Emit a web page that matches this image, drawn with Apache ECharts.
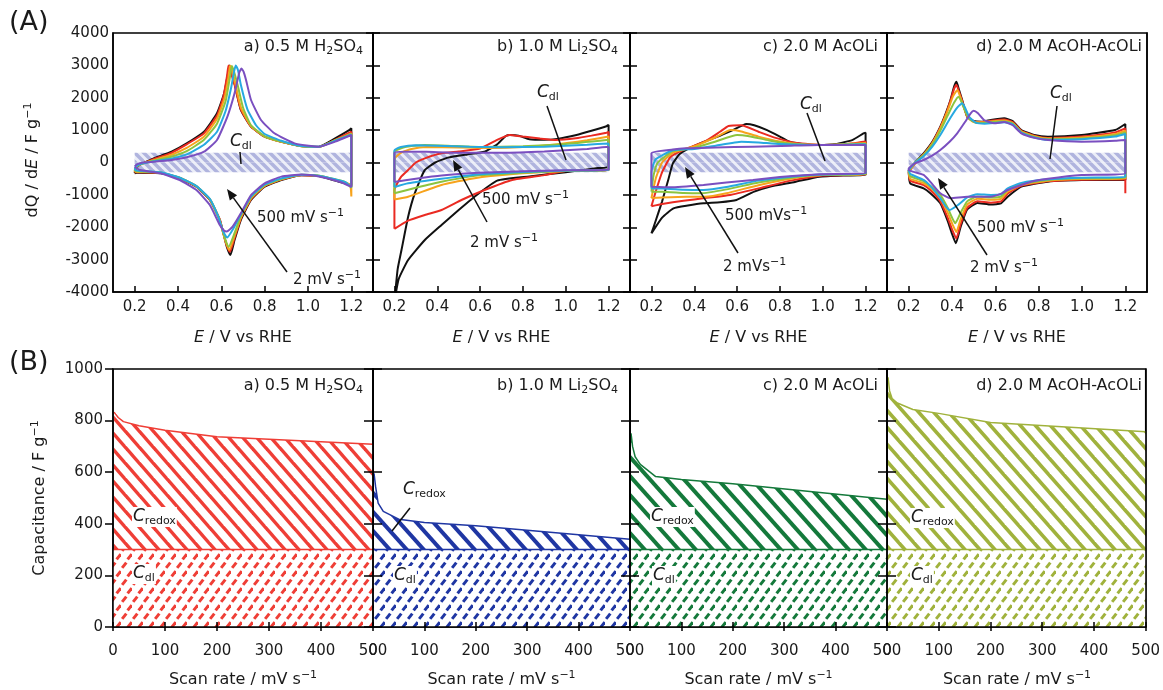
<!DOCTYPE html>
<html>
<head>
<meta charset="utf-8">
<title>CV and capacitance</title>
<script src="https://cdn.jsdelivr.net/npm/echarts@6/dist/echarts.min.js"></script>
<style>
html, body { margin: 0; background: #fff; }
#main { width: 1163px; height: 690px; }
</style>
</head>
<body>
<div id="main"></div>
<script>
// ---------- data ----------
// CV loops [E (V vs RHE), dQ/dE (F/g)], anodic branch then cathodic branch
// 2 mV/s (black) ... 500 mV/s (purple)
var cvA_k = [[0.2,-330],[0.205,-200],[0.22,-80],[0.26,40],[0.29,134],[0.37,334],[0.44,590],[0.52,952],[0.58,1519],[0.613,2137],[0.632,2800],[0.638,3000],[0.648,2800],[0.661,2447],[0.69,1622],[0.737,1106],[0.8,797],[0.877,643],[0.97,510],[1.05,490],[1.125,747],[1.19,1000],[1.2,1060],
  [1.2,-700],[1.17,-640],[1.125,-560],[1.05,-420],[0.97,-390],[0.877,-540],[0.8,-747],[0.737,-1159],[0.69,-1777],[0.661,-2395],[0.642,-2860],[0.625,-2600],[0.61,-2200],[0.593,-1777],[0.547,-1159],[0.485,-747],[0.408,-489],[0.32,-334],[0.21,-320],[0.2,-330]];
var cvA_r = [[0.2,-300],[0.205,-180],[0.22,-70],[0.26,30],[0.29,110],[0.37,300],[0.44,560],[0.52,900],[0.58,1450],[0.61,2050],[0.627,2700],[0.633,3000],[0.643,2800],[0.661,2400],[0.69,1640],[0.737,1110],[0.8,800],[0.877,640],[0.97,505],[1.05,480],[1.125,700],[1.2,950],
  [1.2,-720],[1.17,-620],[1.125,-540],[1.05,-420],[0.97,-390],[0.877,-530],[0.8,-730],[0.737,-1130],[0.69,-1730],[0.661,-2330],[0.64,-2760],[0.623,-2520],[0.608,-2150],[0.593,-1760],[0.547,-1150],[0.485,-740],[0.408,-480],[0.32,-320],[0.21,-300],[0.2,-300]];
var cvA_o = [[0.2,-280],[0.205,-170],[0.22,-70],[0.26,20],[0.29,80],[0.37,240],[0.44,450],[0.52,800],[0.58,1350],[0.615,2000],[0.633,2650],[0.64,3000],[0.65,2830],[0.665,2420],[0.69,1700],[0.737,1120],[0.8,800],[0.877,640],[0.97,505],[1.05,480],[1.125,690],[1.2,900],
  [1.2,-1050],[1.195,-700],[1.17,-610],[1.125,-530],[1.05,-410],[0.97,-385],[0.877,-520],[0.8,-720],[0.737,-1110],[0.69,-1700],[0.66,-2280],[0.637,-2700],[0.62,-2450],[0.605,-2100],[0.59,-1740],[0.547,-1140],[0.485,-735],[0.408,-475],[0.32,-315],[0.21,-290],[0.2,-280]];
var cvA_g = [[0.2,-260],[0.205,-160],[0.22,-70],[0.26,10],[0.29,60],[0.37,180],[0.44,350],[0.52,700],[0.58,1200],[0.62,1900],[0.64,2650],[0.648,2980],[0.658,2820],[0.675,2400],[0.7,1700],[0.737,1150],[0.8,810],[0.877,645],[0.97,505],[1.05,480],[1.125,680],[1.2,880],
  [1.2,-780],[1.17,-600],[1.125,-520],[1.05,-410],[0.97,-380],[0.877,-510],[0.8,-700],[0.737,-1080],[0.69,-1650],[0.66,-2200],[0.634,-2600],[0.617,-2350],[0.602,-2000],[0.588,-1700],[0.547,-1130],[0.485,-730],[0.408,-470],[0.32,-310],[0.21,-270],[0.2,-260]];
var cvA_c = [[0.2,-220],[0.205,-140],[0.22,-60],[0.26,0],[0.29,40],[0.37,120],[0.44,250],[0.52,550],[0.58,950],[0.62,1600],[0.645,2300],[0.66,2850],[0.667,3000],[0.677,2850],[0.69,2400],[0.72,1650],[0.76,1150],[0.8,880],[0.877,670],[0.97,510],[1.05,485],[1.125,670],[1.2,860],
  [1.2,-760],[1.17,-600],[1.125,-520],[1.05,-410],[0.97,-375],[0.877,-490],[0.8,-680],[0.737,-1050],[0.69,-1600],[0.655,-2050],[0.627,-2320],[0.61,-2150],[0.597,-1900],[0.585,-1650],[0.547,-1120],[0.485,-730],[0.408,-470],[0.32,-300],[0.21,-250],[0.2,-220]];
var cvA_p = [[0.2,-130],[0.21,-60],[0.24,0],[0.29,25],[0.37,77],[0.44,160],[0.52,334],[0.58,695],[0.628,1416],[0.661,2137],[0.683,2780],[0.693,2900],[0.703,2800],[0.714,2549],[0.737,1931],[0.783,1313],[0.845,902],[0.938,592],[1.05,488],[1.125,643],[1.2,850],
  [1.2,-750],[1.15,-600],[1.05,-430],[0.97,-370],[0.877,-437],[0.8,-643],[0.737,-1004],[0.69,-1571],[0.652,-1983],[0.625,-2130],[0.612,-2100],[0.593,-1931],[0.547,-1313],[0.485,-850],[0.408,-540],[0.32,-334],[0.225,-232],[0.2,-130]];

var cvB_k = [[0.2,-4300],[0.215,-3300],[0.233,-2704],[0.264,-1674],[0.295,-953],[0.34,-250],[0.39,0],[0.45,150],[0.54,250],[0.62,330],[0.68,560],[0.72,820],[0.74,850],[0.78,830],[0.83,720],[0.9,700],[0.96,730],[1.05,850],[1.12,980],[1.19,1120],[1.2,1160],
  [1.2,-130],[1.15,-170],[1.0,-300],[0.83,-430],[0.68,-560],[0.574,-1056],[0.5,-1468],[0.42,-1931],[0.342,-2395],[0.264,-3013],[0.22,-3600],[0.2,-4300]];
var cvB_r = [[0.2,-2050],[0.2,-850],[0.23,-450],[0.264,-232],[0.3,0],[0.342,129],[0.42,284],[0.5,340],[0.6,430],[0.68,700],[0.737,850],[0.8,800],[0.88,740],[0.954,696],[1.047,747],[1.12,830],[1.19,921],[1.2,940],
  [1.2,-232],[1.0,-260],[0.9,-390],[0.75,-540],[0.621,-850],[0.513,-1159],[0.42,-1468],[0.342,-1622],[0.264,-1797],[0.2,-2050]];
var cvB_o = [[0.2,-1140],[0.2,100],[0.23,300],[0.28,420],[0.35,480],[0.5,460],[0.65,450],[0.8,480],[0.95,560],[1.1,690],[1.2,800],
  [1.2,-240],[1.0,-260],[0.8,-330],[0.65,-420],[0.574,-489],[0.42,-695],[0.264,-1056],[0.2,-1140]];
var cvB_g = [[0.2,-950],[0.2,330],[0.25,480],[0.34,540],[0.45,520],[0.6,480],[0.8,500],[1.0,570],[1.2,700],
  [1.2,-240],[1.0,-260],[0.8,-320],[0.6,-390],[0.42,-592],[0.3,-780],[0.2,-950]];
var cvB_c = [[0.2,-760],[0.2,380],[0.23,480],[0.3,530],[0.4,520],[0.55,490],[0.7,470],[0.9,490],[1.1,550],[1.2,590],
  [1.2,-240],[1.0,-250],[0.8,-290],[0.6,-360],[0.42,-500],[0.264,-643],[0.2,-760]];
var cvB_p = [[0.2,-600],[0.2,300],[0.25,334],[0.35,330],[0.5,300],[0.7,300],[0.9,340],[1.1,420],[1.19,480],[1.2,480],
  [1.2,-230],[1.0,-240],[0.8,-270],[0.6,-320],[0.42,-400],[0.3,-500],[0.2,-600]];

var cvC_k = [[0.2,-2190],[0.22,-1800],[0.25,-1200],[0.28,-500],[0.3,-30],[0.33,250],[0.36,386],[0.43,600],[0.51,797],[0.58,1000],[0.643,1190],[0.68,1150],[0.74,1000],[0.8,800],[0.845,643],[0.92,560],[0.984,540],[1.06,570],[1.14,700],[1.19,900],[1.2,920],
  [1.2,-386],[1.1,-400],[0.984,-437],[0.87,-600],[0.752,-747],[0.68,-900],[0.597,-1159],[0.52,-1230],[0.443,-1261],[0.37,-1330],[0.303,-1416],[0.25,-1700],[0.2,-2190]];
var cvC_r = [[0.2,-1350],[0.22,-900],[0.25,-300],[0.29,180],[0.36,420],[0.45,650],[0.52,950],[0.56,1128],[0.62,1150],[0.7,950],[0.78,760],[0.88,600],[1.0,540],[1.1,560],[1.2,650],
  [1.2,-380],[1.0,-400],[0.85,-560],[0.7,-800],[0.567,-1004],[0.45,-1100],[0.35,-1180],[0.25,-1280],[0.2,-1350]];
var cvC_o = [[0.2,-1100],[0.22,-500],[0.25,0],[0.3,300],[0.4,500],[0.5,780],[0.57,1004],[0.62,960],[0.7,800],[0.8,650],[0.9,560],[1.0,540],[1.2,600],
  [1.2,-370],[1.0,-390],[0.85,-500],[0.7,-700],[0.55,-950],[0.45,-1060],[0.364,-1056],[0.25,-1080],[0.2,-1100]];
var cvC_g = [[0.2,-900],[0.21,-400],[0.23,0],[0.3,350],[0.4,450],[0.5,650],[0.6,850],[0.65,820],[0.75,680],[0.85,580],[1.0,540],[1.2,580],
  [1.2,-360],[1.0,-380],[0.85,-470],[0.7,-620],[0.55,-830],[0.43,-952],[0.35,-940],[0.25,-900],[0.2,-900]];
var cvC_c = [[0.2,-800],[0.2,-300],[0.22,100],[0.3,380],[0.4,420],[0.5,520],[0.62,643],[0.7,620],[0.8,570],[1.0,540],[1.2,560],
  [1.2,-350],[1.0,-370],[0.85,-440],[0.7,-560],[0.55,-760],[0.443,-850],[0.35,-840],[0.25,-800],[0.2,-800]];
var cvC_p = [[0.2,-747],[0.2,284],[0.3,400],[0.36,438],[0.5,460],[0.674,490],[0.85,520],[0.984,540],[1.2,540],
  [1.2,-334],[0.984,-360],[0.8,-450],[0.674,-540],[0.55,-620],[0.443,-695],[0.29,-766],[0.2,-747]];

var cvD_k = [[0.2,-232],[0.23,0],[0.269,284],[0.31,650],[0.346,1107],[0.373,1550],[0.393,1931],[0.41,2350],[0.421,2497],[0.432,2250],[0.447,1931],[0.47,1416],[0.5,1280],[0.54,1261],[0.579,1313],[0.641,1365],[0.68,1280],[0.72,1000],[0.78,850],[0.843,797],[0.998,850],[1.153,1004],[1.2,1190],
  [1.2,-540],[0.998,-540],[0.843,-592],[0.72,-747],[0.657,-1056],[0.626,-1261],[0.58,-1300],[0.517,-1250],[0.47,-1450],[0.44,-1983],[0.418,-2497],[0.4,-2200],[0.38,-1800],[0.346,-1261],[0.3,-950],[0.269,-798],[0.207,-643],[0.2,-232]];
var cvD_r = [[0.2,-300],[0.23,-30],[0.27,260],[0.31,620],[0.346,1080],[0.375,1550],[0.395,1950],[0.41,2280],[0.42,2400],[0.432,2200],[0.448,1880],[0.47,1420],[0.5,1270],[0.54,1250],[0.579,1290],[0.641,1330],[0.68,1250],[0.72,980],[0.78,830],[0.843,760],[0.998,800],[1.153,930],[1.2,1050],
  [1.2,-950],[1.2,-520],[0.998,-530],[0.843,-580],[0.72,-720],[0.657,-960],[0.626,-1200],[0.58,-1240],[0.517,-1200],[0.47,-1400],[0.44,-1900],[0.42,-2350],[0.402,-2100],[0.38,-1700],[0.346,-1200],[0.3,-850],[0.269,-700],[0.207,-560],[0.2,-300]];
var cvD_o = [[0.2,-280],[0.23,-20],[0.27,250],[0.31,600],[0.346,1050],[0.38,1600],[0.405,2050],[0.425,2240],[0.437,2050],[0.452,1750],[0.475,1380],[0.5,1250],[0.54,1240],[0.579,1270],[0.641,1300],[0.68,1220],[0.72,960],[0.78,810],[0.843,740],[0.998,770],[1.153,880],[1.2,980],
  [1.2,-500],[0.998,-510],[0.843,-560],[0.72,-690],[0.657,-900],[0.626,-1120],[0.58,-1150],[0.517,-1120],[0.47,-1300],[0.44,-1750],[0.42,-2150],[0.405,-1950],[0.38,-1550],[0.346,-1100],[0.3,-780],[0.269,-640],[0.207,-500],[0.2,-280]];
var cvD_g = [[0.2,-250],[0.23,0],[0.27,230],[0.31,560],[0.346,980],[0.38,1450],[0.41,1850],[0.43,2033],[0.442,1900],[0.46,1600],[0.48,1350],[0.51,1230],[0.54,1220],[0.579,1250],[0.641,1270],[0.68,1200],[0.72,940],[0.78,790],[0.843,720],[0.998,740],[1.153,840],[1.2,930],
  [1.2,-480],[0.998,-490],[0.843,-540],[0.72,-660],[0.657,-850],[0.626,-1050],[0.58,-1080],[0.517,-1050],[0.47,-1200],[0.44,-1550],[0.415,-1880],[0.4,-1700],[0.38,-1400],[0.346,-1000],[0.3,-720],[0.269,-580],[0.207,-420],[0.2,-250]];
var cvD_c = [[0.2,-230],[0.23,-10],[0.27,200],[0.31,500],[0.346,850],[0.39,1350],[0.425,1700],[0.447,1828],[0.46,1700],[0.48,1400],[0.51,1230],[0.55,1200],[0.6,1220],[0.641,1240],[0.68,1180],[0.72,920],[0.78,770],[0.843,700],[0.998,720],[1.153,800],[1.2,880],
  [1.2,-450],[0.998,-470],[0.843,-520],[0.72,-630],[0.657,-800],[0.626,-980],[0.58,-1000],[0.517,-980],[0.47,-1080],[0.43,-1300],[0.39,-1468],[0.37,-1350],[0.346,-1100],[0.3,-720],[0.269,-540],[0.207,-350],[0.2,-230]];
var cvD_p = [[0.2,-180],[0.23,-20],[0.269,77],[0.31,220],[0.346,386],[0.39,650],[0.424,902],[0.46,1250],[0.486,1519],[0.5,1600],[0.52,1520],[0.548,1313],[0.595,1210],[0.641,1250],[0.68,1150],[0.72,900],[0.78,760],[0.843,695],[0.998,643],[1.153,670],[1.2,695],
  [1.2,-334],[0.998,-386],[0.843,-500],[0.765,-592],[0.657,-850],[0.63,-952],[0.579,-1056],[0.47,-1056],[0.393,-1107],[0.346,-952],[0.3,-600],[0.269,-386],[0.2,-232],[0.2,-180]];

var bandE = [0.2, 1.2];      // hatched C_dl band in the CV plots
var cdlBand = 300;
var eTicks = [0.2, 0.4, 0.6, 0.8, 1.0, 1.2];

// capacitance vs scan rate
var scanRate = [2, 5, 10, 20, 50, 100, 200, 500];
var capA = [833, 825, 812, 796, 780, 763, 737, 708];
var capB = [596, 545, 480, 448, 418, 405, 392, 340];
var capC = [751, 700, 660, 630, 583, 572, 555, 495];
var capD = [968, 915, 885, 868, 843, 828, 793, 757];
var cdlCap = 300;
var scanRange = [0, 500];

var panelTitles = ['a) 0.5 M H{s|2}SO{s|4}', 'b) 1.0 M Li{s|2}SO{s|4}', 'c) 2.0 M AcOLi', 'd) 2.0 M AcOH-AcOLi'];

// ---------- style ----------
var FONT = '"DejaVu Sans", "Liberation Sans", sans-serif';
var INK = '#1a1a1a';
var cvColors = ['#111111', '#ea2a22', '#f7a31c', '#8cc43f', '#27a9e1', '#7a4fc0'];
var capColors = ['#ef3e36', '#1f36a3', '#14793b', '#a0b23c'];
var stripeGap = [14, 17, 17, 15];
var stripeWidth = [3.4, 4, 4, 3.6];

var LEFT = [113, 373, 630, 887];
var WIDTH = [260, 257, 257, 260];
var TOP_A = 33, H_A = 259, TOP_B = 369, H_B = 258;

// hatch tiles
function stripes(color, bg, w, h, lw) {
  var c = document.createElement('canvas');
  c.width = w; c.height = h;
  var g = c.getContext('2d');
  g.fillStyle = bg; g.fillRect(0, 0, w, h);
  g.strokeStyle = color; g.lineWidth = lw;
  for (var k = -1; k <= 1; k++) {
    g.beginPath();
    g.moveTo(k * w - w * 0.5, -h * 0.5);
    g.lineTo(k * w + w * 1.5, h * 1.5);
    g.stroke();
  }
  return { image: c, repeat: 'repeat' };
}
function dashes(color, lw) {
  var w = 11, h = 17;
  var c = document.createElement('canvas');
  c.width = w; c.height = h;
  var g = c.getContext('2d');
  g.fillStyle = '#fff'; g.fillRect(0, 0, w, h);
  g.strokeStyle = color; g.lineWidth = lw;
  [[3.2, 4.25], [8.7, 12.75]].forEach(function (p) {
    g.beginPath();
    g.moveTo(p[0] - 2.1, p[1] + 2.7);
    g.lineTo(p[0] + 2.1, p[1] - 2.7);
    g.stroke();
  });
  return { image: c, repeat: 'repeat' };
}

var bandPat = stripes('#b0b4de', '#eceef8', 9, 9, 3.5);
var cvPanels = [
  [cvA_k, cvA_r, cvA_o, cvA_g, cvA_c, cvA_p],
  [cvB_k, cvB_r, cvB_o, cvB_g, cvB_c, cvB_p],
  [cvC_k, cvC_r, cvC_o, cvC_g, cvC_c, cvC_p],
  [cvD_k, cvD_r, cvD_o, cvD_g, cvD_c, cvD_p]
];
var capPanels = [capA, capB, capC, capD];

var lineBlack = { color: '#000', width: 1.5 };
var grids = [], xAxes = [], yAxes = [], series = [];

for (var i = 0; i < 4; i++) {
  grids.push({ left: LEFT[i], top: TOP_A, width: WIDTH[i], height: H_A, show: true, borderColor: '#000', borderWidth: 1.5 });
}
for (i = 0; i < 4; i++) {
  grids.push({ left: LEFT[i], top: TOP_B, width: WIDTH[i], height: H_B, show: true, borderColor: '#000', borderWidth: 1.5 });
}

// x axes: 0-3 CV, 4-7 capacitance, 8-11 outward ticks of capacitance
for (i = 0; i < 4; i++) {
  xAxes.push({
    gridIndex: i, type: 'value', position: 'bottom', min: 0.1, max: 1.3, z: 10,
    axisLine: { show: true, onZero: false, lineStyle: lineBlack },
    axisTick: { show: true, inside: true, length: 6, customValues: eTicks, lineStyle: lineBlack },
    axisLabel: { customValues: eTicks, formatter: function (v) { return v.toFixed(1); }, fontSize: 15, color: INK, fontFamily: FONT, margin: 8 },
    splitLine: { show: false }
  });
}
for (i = 0; i < 4; i++) {
  xAxes.push({
    gridIndex: 4 + i, type: 'value', position: 'bottom', min: 0, max: 500, interval: 100, z: 10,
    axisLine: { show: true, onZero: false, lineStyle: lineBlack },
    axisTick: { show: true, inside: true, length: 5, lineStyle: lineBlack },
    axisLabel: { fontSize: 15, color: INK, fontFamily: FONT, margin: 17, showMinLabel: true, showMaxLabel: true },
    splitLine: { show: false }
  });
}
for (i = 0; i < 4; i++) {
  xAxes.push({
    gridIndex: 4 + i, type: 'value', position: 'bottom', min: 0, max: 500, interval: 100, z: 10,
    axisLine: { show: false, onZero: false },
    axisTick: { show: true, inside: false, length: 4, lineStyle: lineBlack },
    axisLabel: { show: false }, splitLine: { show: false }
  });
}

// y axes: 0-3 CV left, 4-7 cap left, 8-11 CV right, 12-15 cap right
for (i = 0; i < 4; i++) {
  yAxes.push({
    gridIndex: i, type: 'value', position: 'left', min: -4000, max: 4000, interval: 1000, z: 10,
    axisLine: { show: true, onZero: false, lineStyle: lineBlack },
    axisTick: { show: i > 0, inside: true, length: 7, lineStyle: lineBlack },
    axisLabel: { show: i === 0, fontSize: 15, color: INK, fontFamily: FONT, margin: 4, showMinLabel: true, showMaxLabel: true, formatter: function (v) { return String(v); } },
    splitLine: { show: false }
  });
}
for (i = 0; i < 4; i++) {
  yAxes.push({
    gridIndex: 4 + i, type: 'value', position: 'left', min: 0, max: 1000, interval: 200, z: 10,
    axisLine: { show: true, onZero: false, lineStyle: lineBlack },
    axisTick: { show: true, inside: i > 0, length: i > 0 ? 9 : 8, lineStyle: lineBlack },
    axisLabel: { show: i === 0, fontSize: 15, color: INK, fontFamily: FONT, margin: 10, showMinLabel: true, showMaxLabel: true, formatter: function (v) { return String(v); } },
    splitLine: { show: false }
  });
}
for (i = 0; i < 4; i++) {
  yAxes.push({
    gridIndex: i, type: 'value', position: 'right', min: -4000, max: 4000, interval: 1000, z: 10,
    axisLine: { show: true, onZero: false, lineStyle: lineBlack },
    axisTick: { show: i < 3, inside: true, length: 7, lineStyle: lineBlack },
    axisLabel: { show: false }, splitLine: { show: false }
  });
}
for (i = 0; i < 4; i++) {
  yAxes.push({
    gridIndex: 4 + i, type: 'value', position: 'right', min: 0, max: 1000, interval: 200, z: 10,
    axisLine: { show: true, onZero: false, lineStyle: lineBlack },
    axisTick: { show: i < 3, inside: true, length: 9, lineStyle: lineBlack },
    axisLabel: { show: false }, splitLine: { show: false }
  });
}

// CV panels
cvPanels.forEach(function (curves, p) {
  [cdlBand, -cdlBand].forEach(function (v) {
    series.push({
      type: 'line', xAxisIndex: p, yAxisIndex: p, silent: true, z: 1,
      data: bandE.map(function (e) { return [e, v]; }),
      symbol: 'none', lineStyle: { width: 0, opacity: 0 },
      areaStyle: { color: bandPat, opacity: 1 }
    });
  });
  curves.forEach(function (c, k) {
    series.push({
      type: 'line', xAxisIndex: p, yAxisIndex: p, silent: true, z: 3,
      data: c, symbol: 'none', smooth: 0.15,
      lineStyle: { color: cvColors[k], width: 2 }
    });
  });
});

// capacitance panels
capPanels.forEach(function (cap, p) {
  var col = capColors[p];
  series.push({
    type: 'line', xAxisIndex: 4 + p, yAxisIndex: 4 + p, silent: true, z: 2,
    data: scanRate.map(function (r, j) { return [r, cap[j]]; }),
    symbol: 'none', lineStyle: { color: col, width: 1.5 },
    areaStyle: { color: stripes(col, '#fff', stripeGap[p], stripeGap[p] + 2, stripeWidth[p]), opacity: 1, origin: 'start' }
  });
  series.push({
    type: 'line', xAxisIndex: 4 + p, yAxisIndex: 4 + p, silent: true, z: 3,
    data: scanRange.map(function (r) { return [r, cdlCap]; }),
    symbol: 'none', lineStyle: { color: col, width: 1.5 },
    areaStyle: { color: dashes(col, 3), opacity: 1, origin: 'start' }
  });
});

// ---------- text and arrows ----------
var RICH = {
  i: { fontStyle: 'italic', fontSize: 16, fontFamily: FONT, lineHeight: 20, fill: INK },
  C: { fontStyle: 'italic', fontSize: 17, fontFamily: FONT, lineHeight: 20, fill: INK },
  s: { fontSize: 11, fontFamily: FONT, lineHeight: 8, verticalAlign: 'bottom', fill: INK },
  p: { fontSize: 11, fontFamily: FONT, lineHeight: 12, verticalAlign: 'top', fill: INK }
};
function txt(x, y, text, size, align, rot, bg) {
  var st = { text: text, fontSize: size, fontFamily: FONT, fill: INK, align: align || 'left', verticalAlign: 'middle', lineHeight: 20, rich: RICH };
  if (bg) { st.backgroundColor = '#fff'; st.padding = [0, 1]; }
  return { type: 'text', x: x, y: y, rotation: rot || 0, z: 100, silent: true, style: st };
}
function seg(x1, y1, x2, y2) {
  return { type: 'line', z: 100, silent: true, shape: { x1: x1, y1: y1, x2: x2, y2: y2 }, style: { stroke: '#111', lineWidth: 1.5 } };
}
function arrow(x1, y1, x2, y2) {
  var a = Math.atan2(y2 - y1, x2 - x1), L = 11, W = 4.5;
  var bx = x2 - L * Math.cos(a), by = y2 - L * Math.sin(a);
  return [seg(x1, y1, bx, by), {
    type: 'polygon', z: 100, silent: true,
    shape: { points: [[x2, y2], [bx - W * Math.sin(a), by + W * Math.cos(a)], [bx + W * Math.sin(a), by - W * Math.cos(a)]] },
    style: { fill: '#111' }
  }];
}

var G = [];
G.push(txt(9, 23, '(A)', 27));
G.push(txt(9, 363, '(B)', 27));
G.push(txt(33, 160, 'dQ / d{i|E} / F g{p|−1}', 16, 'center', Math.PI / 2));
G.push(txt(40, 498, 'Capacitance / F g{p|−1}', 16, 'center', Math.PI / 2));

var titleRight = [363, 618, 878, 1142];
for (i = 0; i < 4; i++) {
  var cx = LEFT[i] + WIDTH[i] / 2;
  G.push(txt(titleRight[i], 47, panelTitles[i], 16, 'right'));
  G.push(txt(titleRight[i], 386, panelTitles[i], 16, 'right'));
  G.push(txt(cx, 338, '{i|E} / V vs RHE', 16, 'center'));
  G.push(txt(cx, 680, 'Scan rate / mV s{p|−1}', 16, 'center'));
}

var cvNotes = [
  { cdl: [230, 142], lead: [240, 152, 241, 164], t500: [257, 218, '500 mV s{p|−1}'], t2: [293, 280, '2 mV s{p|−1}'], arr: [287, 272, 227, 189] },
  { cdl: [537, 93], lead: [547, 106, 566, 160], t500: [482, 200, '500 mV s{p|−1}'], t2: [470, 243, '2 mV s{p|−1}'], arr: [487, 222, 453, 160] },
  { cdl: [800, 105], lead: [807, 113, 825, 161], t500: [725, 216, '500 mVs{p|−1}'], t2: [723, 267, '2 mVs{p|−1}'], arr: [738, 253, 685, 167] },
  { cdl: [1050, 94], lead: [1057, 106, 1050, 159], t500: [977, 228, '500 mV s{p|−1}'], t2: [970, 268, '2 mV s{p|−1}'], arr: [987, 255, 938, 178] }
];
cvNotes.forEach(function (n) {
  G.push(txt(n.cdl[0], n.cdl[1], '{C|C}{s|dl}', 17));
  G.push(seg(n.lead[0], n.lead[1], n.lead[2], n.lead[3]));
  G.push(txt(n.t500[0], n.t500[1], n.t500[2], 15));
  G.push(txt(n.t2[0], n.t2[1], n.t2[2], 15));
  G = G.concat(arrow(n.arr[0], n.arr[1], n.arr[2], n.arr[3]));
});

var redoxAt = [[132, 517], [403, 490], [650, 517], [910, 518]];
var dlAt = [[132, 574], [393, 576], [652, 576], [910, 576]];
for (i = 0; i < 4; i++) {
  G.push(txt(redoxAt[i][0], redoxAt[i][1], '{C|C}{s|redox}', 17, 'left', 0, i !== 1));
  G.push(txt(dlAt[i][0], dlAt[i][1], '{C|C}{s|dl}', 17, 'left', 0, true));
}
G.push(seg(410, 508, 392, 531));

var chart = echarts.init(document.getElementById('main'), null, { renderer: 'canvas' });
chart.setOption({
  animation: false,
  backgroundColor: '#fff',
  textStyle: { fontFamily: FONT },
  grid: grids,
  xAxis: xAxes,
  yAxis: yAxes,
  series: series,
  graphic: G
});
</script>
</body>
</html>
